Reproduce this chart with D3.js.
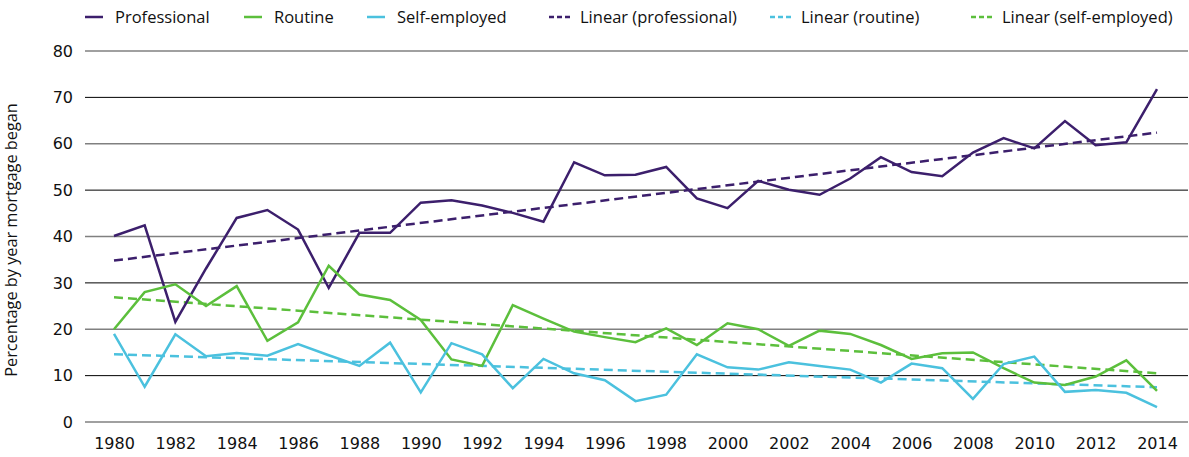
<!DOCTYPE html>
<html>
<head>
<script src="https://d3js.org/d3.v7.min.js"></script>
<style>
  body { margin: 0; background: #fff; font-family: "DejaVu Sans", sans-serif; }
</style>
</head>
<body>
<svg id="chart" width="1189" height="457"></svg>
<script>
var years = d3.range(1980, 2015);

var professional = [40.1, 42.4, 21.6, 33.1, 44.0, 45.7, 41.5, 28.9, 40.8, 40.8,
  47.3, 47.8, 46.7, 45.1, 43.2, 56.0, 53.2, 53.3, 55.0, 48.2,
  46.1, 52.0, 50.1, 49.0, 52.5, 57.1, 53.9, 53.0, 58.1, 61.2,
  59.0, 64.9, 59.7, 60.3, 71.8];

var routine = [20.0, 28.0, 29.7, 25.0, 29.3, 17.5, 21.5, 33.7, 27.5, 26.3,
  22.0, 13.5, 12.1, 25.2, 22.3, 19.5, 18.3, 17.2, 20.2, 16.6,
  21.3, 20.0, 16.4, 19.7, 19.0, 16.6, 13.6, 14.8, 15.0, 11.6,
  8.5, 8.0, 9.8, 13.3, 6.7];

var selfEmployed = [19.0, 7.6, 18.9, 14.2, 14.9, 14.3, 16.8, 14.4, 12.1, 17.1,
  6.4, 17.0, 14.6, 7.3, 13.6, 10.5, 9.0, 4.5, 5.9, 14.6,
  11.8, 11.3, 12.9, 12.1, 11.3, 8.5, 12.6, 11.6, 5.0, 12.5,
  14.1, 6.5, 6.9, 6.3, 3.2];

// trend line end values (1980, 2014)
var trendProfessional = [34.8, 62.4];
var trendGreen = [26.9, 10.5];
var trendCyan = [14.6, 7.5];

var yTicks = [0, 10, 20, 30, 40, 50, 60, 70, 80];
var xTicks = d3.range(1980, 2015, 2);

var purple = "#3c1f6c", green = "#5cbf3c", cyan = "#4bc1de";

var svg = d3.select("#chart");

var x = d3.scaleLinear().domain([1980, 2014]).range([114, 1157]);
var y = d3.scaleLinear().domain([0, 80]).range([422, 51]);

// gridlines
svg.append("g").selectAll("line")
  .data(yTicks)
  .enter().append("line")
  .attr("x1", 85).attr("x2", 1188)
  .attr("y1", function(d) { return y(d); })
  .attr("y2", function(d) { return y(d); })
  .attr("stroke", function(d) { return d % 20 === 0 ? "#808080" : "#000"; })
  .attr("stroke-width", function(d) { return d % 20 === 0 ? 1.6 : 1; });

// y axis labels
var yAxis = svg.append("g")
  .attr("transform", "translate(85,0)")
  .call(d3.axisLeft(y).tickValues(yTicks).tickSize(0).tickPadding(12));
yAxis.select(".domain").remove();
yAxis.selectAll("text")
  .attr("font-family", "DejaVu Sans").attr("font-size", 16).attr("fill", "#111");

// x axis labels
var xAxis = svg.append("g")
  .attr("transform", "translate(0,422)")
  .call(d3.axisBottom(x).tickValues(xTicks).tickFormat(d3.format("d")).tickSize(0).tickPadding(16));
xAxis.select(".domain").remove();
xAxis.selectAll("text")
  .attr("font-family", "DejaVu Sans").attr("font-size", 16).attr("fill", "#111");

svg.append("text")
  .attr("transform", "translate(17,240) rotate(-90)")
  .attr("text-anchor", "middle")
  .attr("font-family", "Open Sans")
  .attr("font-size", 16.3)
  .attr("fill", "#111")
  .text("Percentage by year mortgage began");

var line = d3.line()
  .x(function(d, i) { return x(years[i]); })
  .y(function(d) { return y(d); });

var trend = d3.line()
  .x(function(d, i) { return x(i === 0 ? 1980 : 2014); })
  .y(function(d) { return y(d); });

[[trendProfessional, purple], [trendGreen, green], [trendCyan, cyan]].forEach(function(t) {
  svg.append("path")
    .attr("d", trend(t[0]))
    .attr("fill", "none")
    .attr("stroke", t[1])
    .attr("stroke-width", 2.5)
    .attr("stroke-dasharray", "9,5");
});

[[professional, purple], [routine, green], [selfEmployed, cyan]].forEach(function(s) {
  svg.append("path")
    .attr("d", line(s[0]))
    .attr("fill", "none")
    .attr("stroke", s[1])
    .attr("stroke-width", 2.5)
    .attr("stroke-linejoin", "miter");
});

// legend
var legend = [
  {label: "Professional", color: purple, dash: false, x: 85},
  {label: "Routine", color: green, dash: false, x: 244},
  {label: "Self-employed", color: cyan, dash: false, x: 367},
  {label: "Linear (professional)", color: purple, dash: true, x: 549},
  {label: "Linear (routine)", color: cyan, dash: true, x: 770},
  {label: "Linear (self-employed)", color: green, dash: true, x: 971}
];

var lg = svg.append("g").selectAll("g")
  .data(legend)
  .enter().append("g")
  .attr("transform", function(d) { return "translate(" + d.x + ",17)"; });

lg.append("line")
  .attr("x1", 0).attr("x2", function(d) { return d.dash ? 21 : 18; })
  .attr("stroke", function(d) { return d.color; })
  .attr("stroke-width", 2.5)
  .attr("stroke-dasharray", function(d) { return d.dash ? "5,3" : null; });

lg.append("text")
  .attr("x", function(d) { return d.dash ? 31 : 30; })
  .attr("dy", "0.35em")
  .attr("font-family", "Open Sans")
  .attr("font-size", 16.5)
  .attr("fill", "#111")
  .text(function(d) { return d.label; });
</script>
</body>
</html>
